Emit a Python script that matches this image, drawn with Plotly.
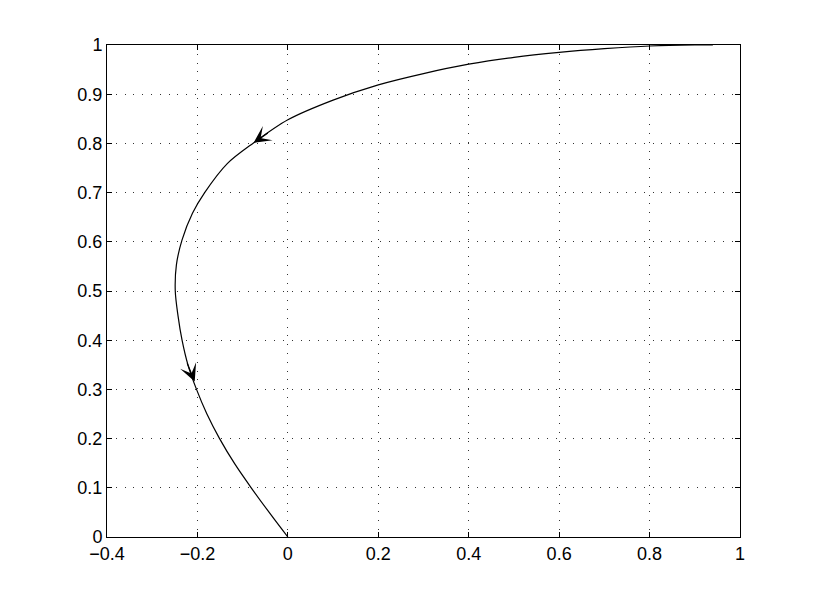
import plotly.graph_objects as go

# curve points (x, y)
curve_x = [0.0, -0.038, -0.081, -0.117, -0.151, -0.179, -0.202, -0.221, -0.234, -0.243, -0.249,
           -0.2465, -0.234, -0.211, -0.184, -0.134, -0.076, 0.0, 0.1, 0.2, 0.3,
           0.4, 0.5, 0.6, 0.7, 0.8, 0.9, 0.94]
curve_y = [0.0, 0.046, 0.1, 0.148, 0.2, 0.25, 0.3, 0.35, 0.4, 0.45, 0.5,
           0.553, 0.604, 0.658, 0.7, 0.759, 0.801, 0.848, 0.888, 0.919, 0.942,
           0.961, 0.975, 0.985, 0.9925, 0.998, 1.0, 1.0]

# arrowheads: tip and tail points
arrow_tip_x = [-0.076, -0.206]
arrow_tip_y = [0.801, 0.316]
arrow_tail_x = [-0.041, -0.224]
arrow_tail_y = [0.823, 0.356]

x_ticks = [-0.4, -0.2, 0, 0.2, 0.4, 0.6, 0.8, 1]
y_ticks = [0, 0.1, 0.2, 0.3, 0.4, 0.5, 0.6, 0.7, 0.8, 0.9, 1]

fig = go.Figure()
fig.add_trace(go.Scatter(x=curve_x, y=curve_y, mode="lines",
                         line=dict(color="black", width=1.2, shape="spline", smoothing=0.9),
                         hoverinfo="skip", showlegend=False))

for tx, ty, ax, ay in zip(arrow_tip_x, arrow_tip_y, arrow_tail_x, arrow_tail_y):
    fig.add_annotation(x=tx, y=ty, ax=ax, ay=ay, xref="x", yref="y", axref="x", ayref="y",
                       showarrow=True, arrowhead=3, arrowsize=2.4, arrowwidth=1.2,
                       arrowcolor="black", text="")

axis_common = dict(showline=True, linecolor="black", linewidth=1, mirror="ticks",
                   ticks="inside", ticklen=5, tickcolor="black",
                   showgrid=True, gridcolor="#333", gridwidth=1, griddash="1px,7.8px",
                   zeroline=False,
                   tickfont=dict(family="Liberation Sans", size=18, color="black"))

fig.update_xaxes(range=[-0.4, 1], tickvals=x_ticks, **axis_common)
fig.update_yaxes(range=[0, 1], tickvals=y_ticks, **axis_common)

fig.update_layout(width=817, height=603, paper_bgcolor="white", plot_bgcolor="white",
                  margin=dict(l=99, r=85, t=37, b=74))

fig.write_html("out.html")
